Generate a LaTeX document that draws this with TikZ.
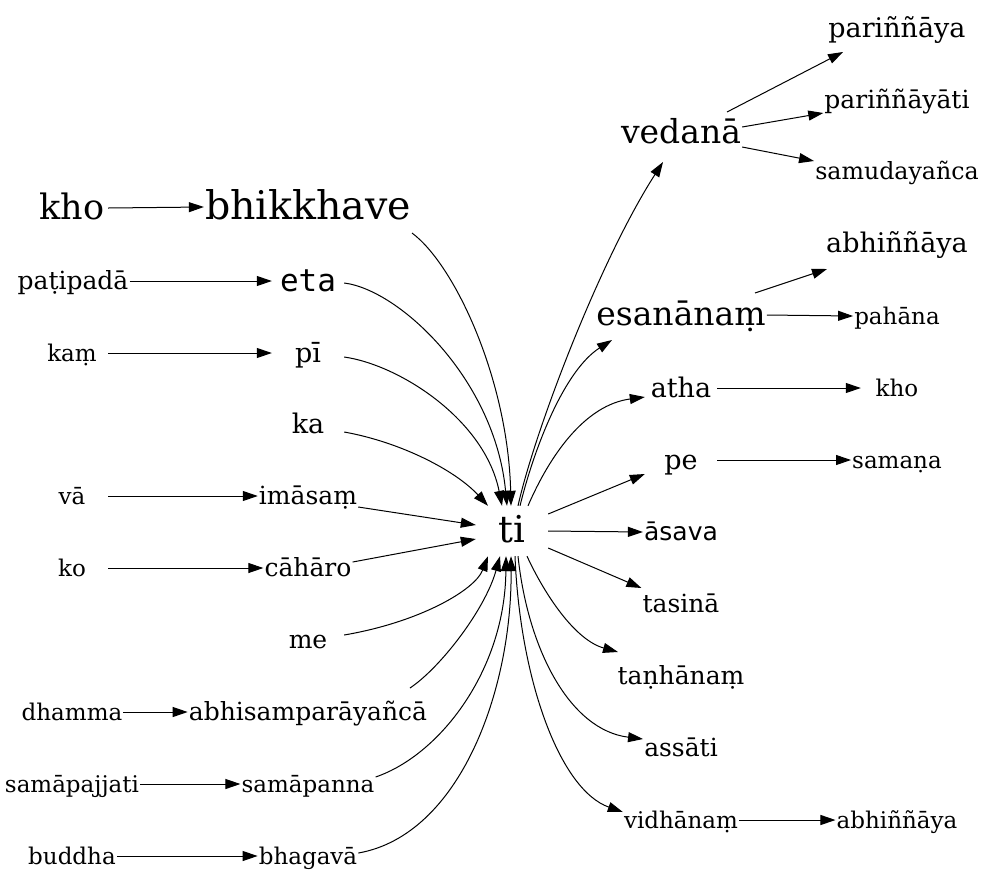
\documentclass[tikz,border=0pt]{standalone}
\usepackage{fontspec}
\setmainfont{DejaVu Serif}
\newfontfamily\sansdv{DejaVu Sans}
\newfontfamily\monodv{DejaVu Sans Mono}
\usetikzlibrary{arrows.meta}
\tikzset{
  lbl/.style={inner sep=1pt, minimum width=72pt, minimum height=48pt},
  szA/.style={lbl, font=\fontsize{23}{28}\selectfont, text height=17pt, text depth=1pt},
  szB/.style={lbl, font=\fontsize{25}{30}\selectfont, text height=18.5pt, text depth=1.5pt},
  szC/.style={lbl, font=\fontsize{27}{32}\selectfont, text height=20pt, text depth=2pt},
  szD/.style={lbl, font=\fontsize{33}{40}\selectfont, text height=24.5pt, text depth=3.5pt},
  szE/.style={lbl, font=\fontsize{35}{42}\selectfont, text height=26pt, text depth=4pt},
  szF/.style={lbl, font=\fontsize{39.5}{47}\selectfont, text height=29.5pt, text depth=5pt},
  arr/.style={-{Triangle[length=15pt,width=10pt]}, line width=1pt}
}
\begin{document}
\begin{tikzpicture}[x=1pt, y=-1pt]
\useasboundingbox (0,0) rectangle (985,887);
% left column
\node[szE] (khoL) at (72,208) {kho};
\node[szB] (patipada) at (73,281) {paṭipadā};
\node[szA] (kam) at (72,353) {kaṃ};
\node[szA] (va) at (72,496) {vā};
\node[szA] (ko) at (72,568) {ko};
\node[szA] (dhamma) at (72,712) {dhamma};
\node[szA] (samapajjati) at (72,784) {samāpajjati};
\node[szA] (buddha) at (72,856) {buddha};
% middle column
\node[szF] (bhikkhave) at (308,207) {bhikkhave};
\node[lbl, font=\monodv\fontsize{31}{37}\selectfont, text height=23pt, text depth=3pt] (eta) at (308,281) {eta};
\node[szC] (pi) at (308,353) {pī};
\node[szC] (ka) at (308,424) {ka};
\node[szB] (imasam) at (308,496) {imāsaṃ};
\node[szB] (caharo) at (308,568) {cāhāro};
\node[szB] (me) at (308,640) {me};
\node[szB] (abhisam) at (308,712) {abhisamparāyañcā};
\node[szA] (samapanna) at (308,784) {samāpanna};
\node[szA] (bhagava) at (308,856) {bhagavā};
% centre
\node[lbl, minimum height=50pt, font=\fontsize{37}{44}\selectfont, text height=27.5pt, text depth=4.5pt] (ti) at (512,531) {ti};
% right column
\node[szD] (vedana) at (681,133) {vedanā};
\node[szD] (esananam) at (681,315) {esanānaṃ};
\node[szC] (atha) at (681,388) {atha};
\node[szC] (pe) at (681,460) {pe};
\node[lbl, font=\sansdv\fontsize{25}{30}\selectfont, text height=18.5pt, text depth=1.5pt] (asava) at (681,532) {āsava};
\node[szB] (tasina) at (681,604) {tasinā};
\node[szB] (tanhanam) at (681,676) {taṇhānaṃ};
\node[szB] (assati) at (681,748) {assāti};
\node[szA] (vidhanam) at (681,820) {vidhānaṃ};
% far right
\node[szC] (parinnaya) at (897,28) {pariññāya};
\node[szB] (parinnayati) at (897,100) {pariññāyāti};
\node[lbl, font=\fontsize{23.7}{28}\selectfont, text height=17.5pt, text depth=1pt] (samudaya) at (897,171) {samudayañca};
\node[szC] (abhiA) at (897,243) {abhiññāya};
\node[szA] (pahana) at (897,316) {pahāna};
\node[szA] (khoR) at (897,388) {kho};
\node[szA] (samana) at (897,460) {samaṇa};
\node[szA] (abhiB) at (897,820) {abhiññāya};
% left straight edges
\draw[arr] (khoL.east) -- (bhikkhave.west);
\draw[arr] (patipada.east) -- (eta.west);
\draw[arr] (kam.east) -- (pi.west);
\draw[arr] (va.east) -- (imasam.west);
\draw[arr] (ko.east) -- (caharo.west);
\draw[arr] (dhamma.east) -- (abhisam.west);
\draw[arr] (samapajjati.east) -- (samapanna.west);
\draw[arr] (buddha.east) -- (bhagava.west);
% into ti
\draw[arr] ([shift={(104pt,-26pt)}]bhikkhave.center) .. controls (455,265) and (508,380) .. ([xshift=-1pt]ti.north);
\draw[arr] ([yshift=-2pt]eta.east) .. controls (400,290) and (495,380) .. ([xshift=-5pt]ti.north);
\draw[arr] ([yshift=-4pt]pi.east) .. controls (400,365) and (485,420) .. ([xshift=-10pt]ti.north);
\draw[arr] ([yshift=-8pt]ka.east) .. controls (400,442) and (455,470) .. ([xshift=-24pt]ti.north);
\draw[arr] ([yshift=-11pt]imasam.east) -- ([yshift=6pt]ti.west);
\draw[arr] ([yshift=6pt]caharo.east) -- ([yshift=-8pt]ti.west);
\draw[arr] ([yshift=5pt]me.east) .. controls (420,622) and (475,590) .. ([xshift=-24pt]ti.south);
\draw[arr] ([shift={(102pt,24pt)}]abhisam.center) .. controls (440,668) and (485,610) .. ([xshift=-12pt]ti.south);
\draw[arr] ([yshift=7pt]samapanna.east) .. controls (440,755) and (505,670) .. ([xshift=-6pt]ti.south);
\draw[arr] ([yshift=3pt]bhagava.east) .. controls (460,835) and (512,690) .. ([xshift=-1pt]ti.south);
% out of ti
\draw[arr] ([xshift=6pt]ti.north) .. controls (535,430) and (600,260) .. ([shift={(-18pt,-29pt)}]vedana.center);
\draw[arr] ([xshift=8pt]ti.north) .. controls (535,445) and (565,370) .. ([shift={(-69pt,-25pt)}]esananam.center);
\draw[arr] ([xshift=16pt]ti.north) .. controls (550,455) and (585,405) .. ([yshift=-9pt]atha.west);
\draw[arr] ([yshift=17pt]ti.east) -- ([yshift=-14pt]pe.west);
\draw[arr] (ti.east) -- (asava.west);
\draw[arr] ([yshift=-17pt]ti.east) -- ([yshift=16pt]tasina.west);
\draw[arr] ([xshift=15pt]ti.south) .. controls (545,595) and (575,640) .. ([shift={(-63pt,24pt)}]tanhanam.center);
\draw[arr] ([xshift=6pt]ti.south) .. controls (528,650) and (570,730) .. ([yshift=9pt]assati.west);
\draw[arr] ([xshift=3pt]ti.south) .. controls (520,680) and (560,790) .. ([yshift=8pt]vidhanam.west);
% right edges
\draw[arr] ([shift={(46pt,21pt)}]vedana.center) -- ([shift={(-54pt,-24pt)}]parinnaya.center);
\draw[arr] ([yshift=6pt]vedana.east) -- ([yshift=-13pt]parinnayati.west);
\draw[arr] ([yshift=-14pt]vedana.east) -- ([yshift=10pt]samudaya.west);
\draw[arr] ([shift={(74pt,22pt)}]esananam.center) -- ([shift={(-70pt,-26pt)}]abhiA.center);
\draw[arr] (esananam.east) -- (pahana.west);
\draw[arr] (atha.east) -- (khoR.west);
\draw[arr] (pe.east) -- (samana.west);
\draw[arr] (vidhanam.east) -- (abhiB.west);
\end{tikzpicture}
\end{document}
